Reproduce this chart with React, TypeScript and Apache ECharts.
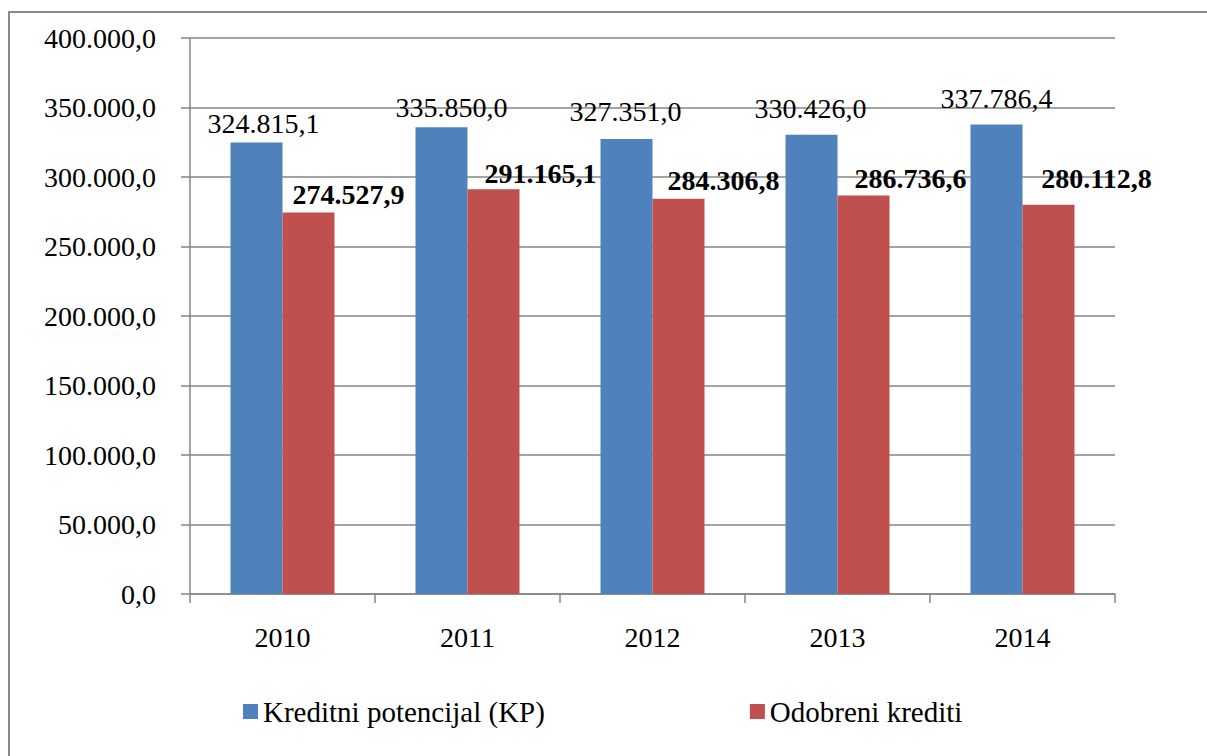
import React, { useEffect, useRef } from "react";
import * as echarts from "echarts";

const years = ["2010", "2011", "2012", "2013", "2014"];
const kreditniPotencijal = [324815.1, 335850.0, 327351.0, 330426.0, 337786.4];
const odobreniKrediti = [274527.9, 291165.1, 284306.8, 286736.6, 280112.8];
const seriesNames = ["Kreditni potencijal (KP)", "Odobreni krediti"];
const yTicks = { min: 0, max: 400000, interval: 50000 };

// label nudges (style only)
const blueLabelShift = [[7, 0], [10, -1], [-1, -8], [-1, -7], [0, -7]];
const redLabelShift = [[40, 1], [47, 3], [45, 1], [47, 2], [48, -7]];

const FONT = "Liberation Serif";
const GRAY = "#868686";

function fmt(v: number): string {
  const fixed = v.toFixed(1);
  const [intPart, dec] = fixed.split(".");
  const withDots = intPart.replace(/\B(?=(\d{3})+(?!\d))/g, ".");
  return withDots + "," + dec;
}

export default function App() {
  const ref = useRef<HTMLDivElement>(null);
  useEffect(() => {
    if (!ref.current) return;
    const chart = echarts.init(ref.current, undefined, { renderer: "svg" });
    chart.setOption({
      animation: false,
      backgroundColor: "#ffffff",
      textStyle: { fontFamily: FONT },
      graphic: [
        {
          type: "rect",
          shape: { x: 9, y: 12, width: 1300, height: 800 },
          style: { fill: "none", stroke: "#8a8a8a", lineWidth: 2 },
          silent: true,
        },
      ],
      grid: { left: 190, right: 92, top: 38, bottom: 162, containLabel: false },
      legend: {
        left: 238,
        top: 692,
        itemWidth: 15,
        itemHeight: 15,
        itemGap: 205,
        icon: "rect",
        textStyle: { fontFamily: FONT, fontSize: 29, color: "#000" },
        data: seriesNames,
      },
      xAxis: {
        type: "category",
        data: years,
        axisLine: { show: true, lineStyle: { color: GRAY, width: 1.5 } },
        axisTick: { show: true, length: 9, lineStyle: { color: GRAY, width: 1.5 } },
        axisLabel: { fontFamily: FONT, fontSize: 28, color: "#000", margin: 29 },
      },
      yAxis: {
        type: "value",
        min: yTicks.min,
        max: yTicks.max,
        interval: yTicks.interval,
        axisLine: { show: true, lineStyle: { color: GRAY, width: 1.5 } },
        axisTick: { show: true, length: 9, lineStyle: { color: GRAY, width: 1.5 } },
        splitLine: { show: true, lineStyle: { color: GRAY, width: 1.5 } },
        axisLabel: {
          fontFamily: FONT,
          fontSize: 28,
          color: "#000",
          margin: 34,
          formatter: (v: number) => fmt(v),
        },
      },
      series: [
        {
          name: seriesNames[0],
          type: "bar",
          barWidth: 52,
          barGap: "0%",
          itemStyle: { color: "#4F81BD" },
          data: kreditniPotencijal.map((v, i) => ({
            value: v,
            label: { offset: blueLabelShift[i] },
          })),
          label: {
            show: true,
            position: "top",
            distance: 5,
            fontFamily: FONT,
            fontSize: 28,
            color: "#000",
            formatter: (p: any) => fmt(p.value),
          },
        },
        {
          name: seriesNames[1],
          type: "bar",
          barWidth: 52,
          barGap: "0%",
          itemStyle: { color: "#C0504D" },
          data: odobreniKrediti.map((v, i) => ({
            value: v,
            label: { offset: redLabelShift[i] },
          })),
          label: {
            show: true,
            position: "top",
            distance: 5,
            fontFamily: FONT,
            fontSize: 28,
            fontWeight: "bold",
            color: "#000",
            formatter: (p: any) => fmt(p.value),
          },
        },
      ],
    });
    return () => chart.dispose();
  }, []);
  return (
    <div
      ref={ref}
      style={{ position: "absolute", left: 0, top: 0, width: 1207, height: 756, background: "#fff" }}
    />
  );
}
